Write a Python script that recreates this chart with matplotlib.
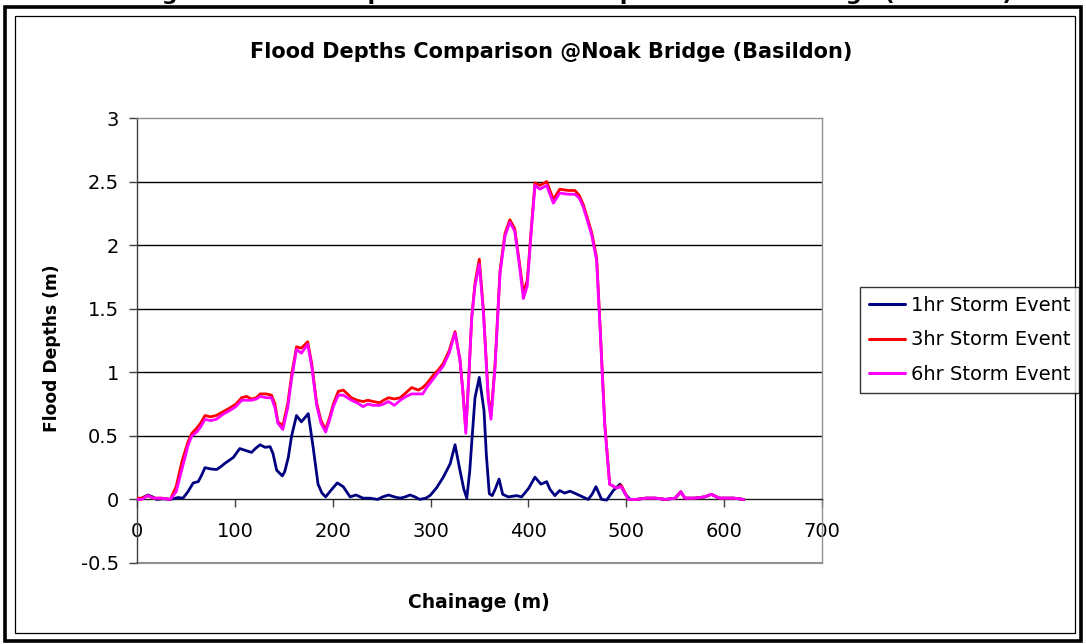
import matplotlib
matplotlib.use("Agg")
import matplotlib.pyplot as plt
from matplotlib.patches import Rectangle

plt.rcParams['font.family'] = ['DejaVu Sans']

# ---------------- data ----------------
chainage_3hr = [0, 5, 11, 17, 25, 34, 40, 46, 52, 56, 61, 65, 69.5, 75, 81, 88, 95, 101, 107, 112,
                117, 122, 126, 132, 137.5, 141, 144, 149, 154, 158, 163, 168, 174.4, 178.5, 183.6, 188,
                192.8, 197, 200.6, 205.7, 210.8, 215, 219, 225, 231, 236, 241.5, 248, 252, 257, 263,
                269, 275, 280.7, 287.5, 292, 296, 303, 308, 313, 319, 325, 330, 333, 336, 339, 342,
                345.4, 349.8, 354, 359, 361.7, 365.8, 371, 376, 381, 386, 391, 394.8, 398.8, 402.6,
                406.7, 411.8, 418.7, 421, 425.5, 432, 440.7, 447.6, 452, 456, 460, 464.6, 469.7, 473,
                478, 483, 490, 495, 502, 510, 520, 530, 540, 550, 555.6, 560, 570, 580, 587, 595, 600,
                610, 620]
depth_3hr = [0.01, 0.01, 0.03, 0.01, 0.01, 0.0, 0.1, 0.3, 0.45, 0.52, 0.56, 0.60, 0.66, 0.65, 0.66,
             0.69, 0.72, 0.75, 0.80, 0.81, 0.79, 0.80, 0.83, 0.83, 0.82, 0.75, 0.61, 0.58, 0.75, 0.98,
             1.20, 1.19, 1.24, 1.07, 0.76, 0.62, 0.55, 0.65, 0.75, 0.85, 0.86, 0.83, 0.80, 0.78, 0.77,
             0.78, 0.77, 0.76, 0.78, 0.80, 0.79, 0.80, 0.84, 0.88, 0.86, 0.88, 0.91, 0.98, 1.02, 1.07,
             1.17, 1.32, 1.10, 0.85, 0.55, 0.95, 1.43, 1.70, 1.89, 1.49, 0.80, 0.66, 1.05, 1.80, 2.09,
             2.20, 2.13, 1.85, 1.63, 1.72, 2.10, 2.49, 2.47, 2.50, 2.45, 2.36, 2.44, 2.43, 2.43, 2.39,
             2.32, 2.22, 2.10, 1.90, 1.40, 0.60, 0.12, 0.09, 0.11, 0.0, 0.0, 0.01, 0.01, 0.0, 0.01,
             0.06, 0.01, 0.01, 0.02, 0.04, 0.01, 0.01, 0.01, 0.0]
depth_6hr = [0.0, 0.0, 0.03, 0.01, 0.01, 0.0, 0.06, 0.24, 0.42, 0.50, 0.53, 0.57, 0.63, 0.62, 0.63,
             0.67, 0.70, 0.73, 0.78, 0.78, 0.78, 0.79, 0.81, 0.80, 0.80, 0.72, 0.60, 0.55, 0.72, 0.95,
             1.18, 1.15, 1.22, 1.05, 0.74, 0.60, 0.53, 0.63, 0.73, 0.82, 0.82, 0.80, 0.78, 0.76, 0.73,
             0.75, 0.74, 0.74, 0.75, 0.77, 0.74, 0.78, 0.81, 0.83, 0.83, 0.83, 0.88, 0.95, 1.00, 1.05,
             1.15, 1.31, 1.10, 0.85, 0.52, 0.95, 1.42, 1.68, 1.85, 1.47, 0.78, 0.63, 1.03, 1.78, 2.07,
             2.18, 2.11, 1.83, 1.58, 1.68, 2.08, 2.47, 2.44, 2.47, 2.42, 2.33, 2.41, 2.40, 2.40, 2.37,
             2.30, 2.20, 2.08, 1.88, 1.38, 0.58, 0.12, 0.09, 0.10, 0.0, 0.0, 0.01, 0.01, 0.0, 0.01,
             0.06, 0.01, 0.01, 0.02, 0.04, 0.01, 0.01, 0.01, 0.0]

chainage_1hr = [0, 5, 11, 16, 20, 27, 34, 42, 47, 52, 57.5, 62.6, 66, 69.5, 75, 81.4, 86, 90, 98.4,
                105, 111, 117, 121, 125.7, 130.8, 136, 139, 142.7, 148.5, 151, 154.6, 158, 163, 168,
                175, 180, 185, 189, 192.8, 198, 204.7, 210.8, 217.7, 223.8, 231, 238, 246, 251, 257,
                263, 269, 274, 279, 284, 289, 295, 299.4, 306, 313, 320, 325, 330, 334, 337, 340, 342,
                345.4, 349.8, 354.6, 357, 360, 363, 366, 370, 373.7, 379.5, 388, 393, 400, 406.7,
                412.8, 418.6, 422, 427, 432, 437, 442.5, 447, 452.7, 461, 465, 469, 474.8, 480,
                486.7, 493.6, 498.7, 503.8, 510, 520, 530, 540, 550, 555.6, 560, 570, 580, 587, 595,
                600, 610, 620]
depth_1hr = [0.0, 0.01, 0.035, 0.02, 0.0, 0.005, 0.0, 0.015, 0.01, 0.06, 0.13, 0.14, 0.19, 0.25,
             0.24, 0.235, 0.26, 0.285, 0.33, 0.40, 0.385, 0.37, 0.40, 0.43, 0.41, 0.415, 0.36, 0.23,
             0.185, 0.22, 0.33, 0.50, 0.66, 0.61, 0.675, 0.41, 0.12, 0.05, 0.02, 0.07, 0.13, 0.10,
             0.02, 0.035, 0.01, 0.01, 0.0, 0.02, 0.035, 0.02, 0.01, 0.02, 0.035, 0.02, 0.0, 0.01,
             0.03, 0.09, 0.175, 0.28, 0.43, 0.23, 0.08, 0.01, 0.22, 0.44, 0.80, 0.96, 0.70, 0.35,
             0.045, 0.03, 0.08, 0.16, 0.04, 0.02, 0.03, 0.02, 0.085, 0.175, 0.12, 0.14, 0.08, 0.03,
             0.07, 0.05, 0.065, 0.05, 0.03, 0.0, 0.04, 0.10, 0.0, -0.005, 0.07, 0.12, 0.045, 0.0,
             0.0, 0.01, 0.01, 0.0, 0.01, 0.06, 0.01, 0.01, 0.02, 0.04, 0.01, 0.01, 0.01, 0.0]

series_labels = ["1hr Storm Event", "3hr Storm Event", "6hr Storm Event"]
x_ticks = [0, 100, 200, 300, 400, 500, 600, 700]
y_ticks = [-0.5, 0, 0.5, 1, 1.5, 2, 2.5, 3]
y_ticklabels = ["-0.5", "0", "0.5", "1", "1.5", "2", "2.5", "3"]
title = "Flood Depths Comparison @Noak Bridge (Basildon)"
caption = "Figure 4: Flood depth across the floodplain at Noak Bridge (Basildon)"

# ---------------- figure ----------------
W, H = 1086, 644
fig = plt.figure(figsize=(W / 100, H / 100), dpi=100)
fig.patch.set_facecolor("white")

# frames
fig.patches.append(Rectangle((5 / W, 3 / H), 1076 / W, 634 / H, transform=fig.transFigure,
                             fill=False, edgecolor="black", linewidth=2.6))
fig.patches.append(Rectangle((15 / W, 11 / H), 1060 / W, 617 / H, transform=fig.transFigure,
                             fill=False, edgecolor="black", linewidth=0.9))

ax = fig.add_axes([137 / W, 1 - 563 / H, (822 - 137) / W, (563 - 118) / H])
ax.set_xlim(0, 700)
ax.set_ylim(-0.5, 3)

ax.set_yticks(y_ticks)
ax.set_yticklabels(y_ticklabels)
ax.set_xticks(x_ticks)
ax.set_xticklabels([str(v) for v in x_ticks])

for yv in y_ticks[2:-1]:
    ax.axhline(yv, color="black", linewidth=1.0, zorder=1)

l1, = ax.plot(chainage_1hr, depth_1hr, color="#000080", linewidth=2.0, zorder=3,
              solid_joinstyle="round", solid_capstyle="round")
l2, = ax.plot(chainage_3hr, depth_3hr, color="#FF0000", linewidth=2.0, zorder=4,
              solid_joinstyle="round", solid_capstyle="round")
l3, = ax.plot(chainage_3hr, depth_6hr, color="#FF00FF", linewidth=2.0, zorder=5,
              solid_joinstyle="round", solid_capstyle="round")

# spines
ax.spines["bottom"].set_position(("data", 0))
ax.spines["bottom"].set_color("#202020")
ax.spines["bottom"].set_linewidth(1.0)
ax.spines["left"].set_color("#404040")
ax.spines["left"].set_linewidth(1.0)
for s in ["top", "right"]:
    ax.spines[s].set_color("#909090")
    ax.spines[s].set_linewidth(1.0)
ax.axhline(-0.5, color="#909090", linewidth=1.5, clip_on=False, zorder=2)

ax.tick_params(axis="y", direction="out", length=6, width=1, color="#404040",
               labelsize=14, pad=7)
ax.tick_params(axis="x", direction="out", length=6, width=1, color="#404040",
               labelsize=14, pad=10)

fig.text(551 / W, 1 - 52 / H, title, ha="center", va="center", fontsize=15, fontweight="bold")
fig.text(479 / W, 1 - 603 / H, "Chainage (m)", ha="center", va="center", fontsize=13.5,
         fontweight="bold")
fig.text(52 / W, 1 - 348 / H, "Flood Depths (m)", ha="center", va="center", fontsize=12.3,
         fontweight="bold", rotation=90)
fig.text(576 / W, 1 + 0.5 / H, caption, ha="center", va="baseline", fontsize=16,
         fontweight="bold")

leg = fig.legend([l1, l2, l3], series_labels, loc="upper left",
                 bbox_to_anchor=(860 / W, 1 - 287 / H), bbox_transform=fig.transFigure,
                 borderaxespad=0, fontsize=14.0, frameon=True, fancybox=False,
                 handlelength=1.85, handletextpad=0.3, labelspacing=0.8, borderpad=0.45)
leg.get_frame().set_edgecolor("black")
leg.get_frame().set_linewidth(1.0)
for ln in leg.get_lines():
    ln.set_linewidth(2.2)

fig.savefig("out.png", dpi=100, facecolor="white")
